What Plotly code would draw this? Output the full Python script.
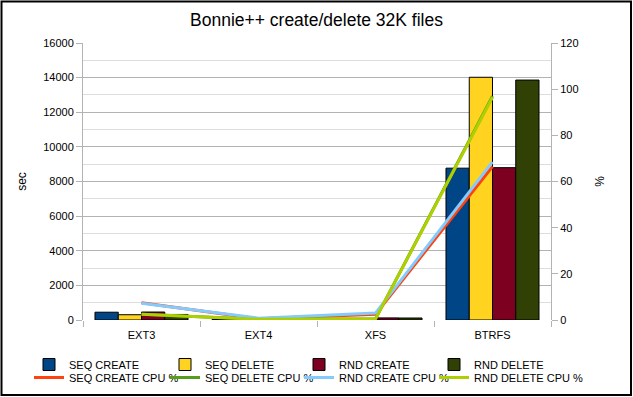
import plotly.graph_objects as go

categories = ["EXT3", "EXT4", "XFS", "BTRFS"]

seq_create = [450, 30, 40, 8770]
seq_delete = [305, 20, 25, 14020]
rnd_create = [460, 30, 120, 8800]
rnd_delete = [320, 20, 115, 13860]

seq_create_cpu = [7.5, 0.5, 2.5, 66.5]
seq_delete_cpu = [2.5, 0.3, 0.5, 97.0]
rnd_create_cpu = [7.3, 0.8, 3.0, 68.5]
rnd_delete_cpu = [2.5, 0.3, 0.5, 96.5]

bar_names = ["SEQ CREATE", "SEQ DELETE", "RND CREATE", "RND DELETE"]
bar_values = [seq_create, seq_delete, rnd_create, rnd_delete]
bar_colors = ["#004586", "#ffd320", "#7e0021", "#314004"]

line_names = ["SEQ CREATE CPU %", "SEQ DELETE CPU %", "RND CREATE CPU %", "RND DELETE CPU %"]
line_values = [seq_create_cpu, seq_delete_cpu, rnd_create_cpu, rnd_delete_cpu]
line_colors = ["#ff420e", "#579d1c", "#83caff", "#aecf00"]

FONT = "Liberation Sans, Arial, sans-serif"

W, H = 633, 397
L, R, T, B = 83, 551, 43, 320
pw, ph = R - L, B - T

def px(xp):
    return (xp - L) / pw

def py(yp):
    return (B - yp) / ph

legend_text_x = [65, 201, 335, 470]
row_y = [362, 375]

fig = go.Figure()
legend_layouts = {}

def legend_spec(col, row):
    return dict(orientation="v", x=px(legend_text_x[col] - 36), y=py(row_y[row] - 12),
                xanchor="left", yanchor="top",
                font=dict(size=11, family=FONT, color="#000000"), tracegroupgap=0,
                itemwidth=30, bgcolor="rgba(0,0,0,0)", borderwidth=0)

for i, (n, v, c) in enumerate(zip(bar_names, bar_values, bar_colors)):
    lid = "legend" if i == 0 else f"legend{i + 1}"
    legend_layouts[lid] = legend_spec(i, 0)
    fig.add_trace(go.Bar(x=categories, y=v, name=n, marker=dict(color=c, line=dict(color="#000000", width=1)),
                         yaxis="y", legend=lid))
for i, (n, v, c) in enumerate(zip(line_names, line_values, line_colors)):
    lid = f"legend{i + 5}"
    legend_layouts[lid] = legend_spec(i, 1)
    fig.add_trace(go.Scatter(x=categories, y=v, name=n, mode="lines", line=dict(color=c, width=3),
                             yaxis="y2", legend=lid))

fig.update_layout(
    width=W, height=H,
    margin=dict(l=L, r=W - R, t=T, b=H - B, pad=0, autoexpand=False),
    paper_bgcolor="white", plot_bgcolor="white",
    font=dict(family=FONT, size=11, color="#000000"),
    barmode="group", bargap=0.205, bargroupgap=0,
    showlegend=True,
    title=dict(text="Bonnie++ create/delete 32K files", x=0.5, xanchor="center",
               y=1 - 20 / H, yanchor="middle", font=dict(size=17.5, family=FONT, color="#000000")),
    xaxis=dict(type="category", tickson="boundaries", ticks="outside", ticklen=6, tickcolor="#b3b3b3",
               showgrid=False, showline=False, zeroline=False, tickfont=dict(size=11), automargin=False,
               ticklabelstandoff=7),
    yaxis=dict(range=[0, 16000], dtick=2000, tickformat="d", ticks="outside", ticklen=6, tickcolor="#b3b3b3",
               showgrid=True, gridcolor="#b3b3b3", gridwidth=1, zeroline=False,
               showline=True, linecolor="#b3b3b3", linewidth=1, automargin=False,
               minor=dict(dtick=1000, showgrid=True, gridcolor="#dddddd", gridwidth=1),
               title=dict(text="sec", font=dict(size=12), standoff=14), tickfont=dict(size=11)),
    yaxis2=dict(range=[0, 120], dtick=20, overlaying="y", side="right", ticks="outside", ticklen=6,
                tickcolor="#b3b3b3", showgrid=False, zeroline=False, showline=True, automargin=False,
                linecolor="#b3b3b3", linewidth=1,
                title=dict(text="%", font=dict(size=12), standoff=18), tickfont=dict(size=11)),
    shapes=[dict(type="rect", xref="paper", yref="paper", x0=px(1.5), x1=px(631), y0=py(395), y1=py(1.5),
                 line=dict(color="#000000", width=2), fillcolor="rgba(0,0,0,0)", layer="above")],
    **legend_layouts,
)

fig.write_html("out.html", config={"displayModeBar": False},
               post_script="document.body.style.margin='0px';document.body.style.overflow='hidden';")
